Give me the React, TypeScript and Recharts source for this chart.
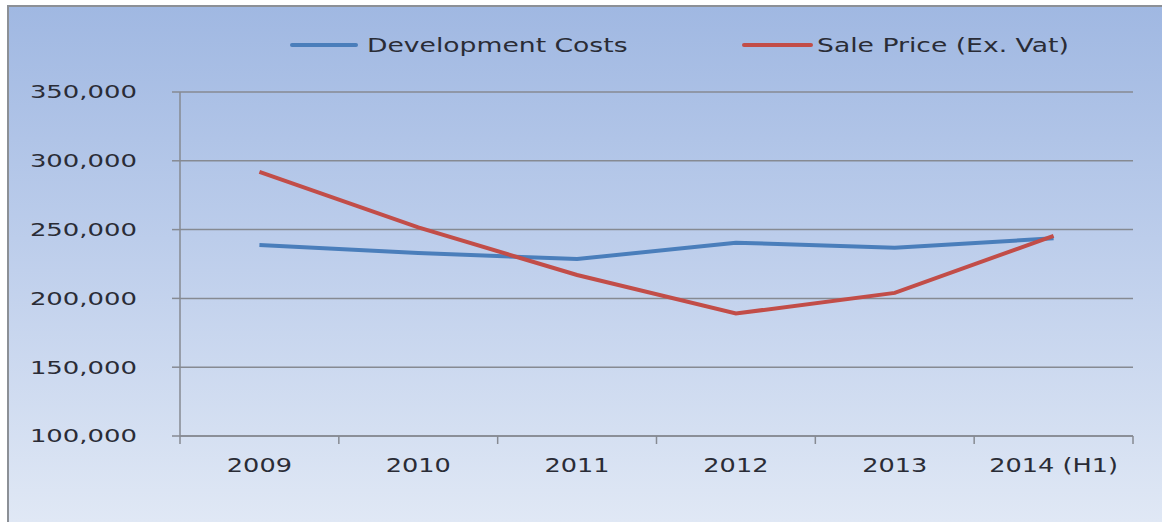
import React from 'react';
import { LineChart, Line, XAxis, YAxis, CartesianGrid, Legend } from 'recharts';

const years = ['2009', '2010', '2011', '2012', '2013', '2014 (H1)'];
const developmentCosts = [238800, 233000, 228600, 240500, 236800, 243700];
const salePrice = [292000, 251600, 217000, 189000, 204000, 245500];
const yTicks = [100000, 150000, 200000, 250000, 300000, 350000];

const data = years.map((year, i) => ({
  year,
  dev: developmentCosts[i],
  sale: salePrice[i],
}));

const TEXT = '#2a2c36';
const AXIS = '#868a92';
const FONT = '"DejaVu Sans", Verdana, sans-serif';

const fmt = (v: number) => v.toLocaleString('en-US');

const YTick = (props: any) => {
  const { x, y, payload } = props;
  return (
    <g transform={`translate(${x},${y})`}>
      <text textAnchor="end" dy="0.36em" transform="scale(1.44,1)" fontFamily={FONT} fontSize={18} fill={TEXT}>
        {fmt(payload.value)}
      </text>
    </g>
  );
};

const XTick = (props: any) => {
  const { x, y, payload, index, visibleTicksCount, width } = props;
  const half =
    payload && typeof payload.offset === 'number' && payload.offset > 0
      ? payload.offset
      : width / (visibleTicksCount || 6) / 2;
  const isLast = index === (visibleTicksCount || 6) - 1;
  return (
    <g transform={`translate(${x},${y})`}>
      <line x1={-half} x2={-half} y1={0} y2={8} stroke={AXIS} strokeWidth={1.5} />
      {isLast && <line x1={half} x2={half} y1={0} y2={8} stroke={AXIS} strokeWidth={1.5} />}
      <text y={22} textAnchor="middle" dy="0.71em" transform="scale(1.28,1)" fontFamily={FONT} fontSize={20} fill={TEXT}>
        {payload.value}
      </text>
    </g>
  );
};

const legendLayout = [
  { before: 281, line: 68, gap: 9, text: 266 },
  { before: 109, line: 71, gap: 4, text: 253 },
];

const LegendContent = (props: any) => {
  const payload = props.payload || [];
  return (
    <div style={{ height: 60, position: 'relative' }}>
      <div style={{ display: 'flex', alignItems: 'center', height: 26 }}>
        {payload.map((p: any, i: number) => {
          const l = legendLayout[i] || legendLayout[1];
          return (
            <React.Fragment key={p.value}>
              <span style={{ display: 'inline-block', width: l.before, flex: 'none' }} />
              <span style={{ display: 'inline-block', width: l.line, height: 4, background: p.color, borderRadius: 2, flex: 'none' }} />
              <span style={{ display: 'inline-block', width: l.gap, flex: 'none' }} />
              <span style={{ display: 'inline-block', width: l.text, whiteSpace: 'nowrap', flex: 'none' }}>
                <span
                  style={{
                    display: 'inline-block',
                    transform: 'scaleX(1.4)',
                    transformOrigin: 'left center',
                    fontFamily: FONT,
                    fontSize: 19,
                    color: TEXT,
                    lineHeight: '26px',
                  }}
                >
                  {p.value}
                </span>
              </span>
            </React.Fragment>
          );
        })}
      </div>
    </div>
  );
};

export default function App() {
  return (
    <div
      style={{
        position: 'absolute',
        left: 7,
        top: 5,
        width: 1155,
        height: 517,
        boxSizing: 'border-box',
        borderLeft: '2px solid #8c9096',
        borderTop: '2px solid #8c9096',
        background: 'linear-gradient(180deg, #a0b8e2 0%, #bccdeb 45%, #e0e8f5 100%)',
      }}
    >
      <LineChart width={1153} height={515} data={data} margin={{ top: 25, right: 29, bottom: 85, left: 0 }}>
        <CartesianGrid vertical={false} stroke={AXIS} strokeWidth={1.5} />
        <XAxis
          dataKey="year"
          scale="band"
          height={1}
          stroke={AXIS}
          strokeWidth={1.5}
          tickLine={false}
          tickSize={0}
          tickMargin={0}
          tick={<XTick />}
          interval={0}
        />
        <YAxis
          width={171}
          domain={[100000, 350000]}
          ticks={yTicks}
          tickSize={8}
          tickMargin={35}
          stroke={AXIS}
          strokeWidth={1.5}
          tick={<YTick />}
          interval={0}
        />
        <Legend
          verticalAlign="top"
          align="left"
          content={<LegendContent />}
          wrapperStyle={{ left: 0, width: 1153 }}
        />
        <Line dataKey="dev" name="Development Costs" stroke="#4a7ebb" strokeWidth={4} dot={false} isAnimationActive={false} />
        <Line dataKey="sale" name="Sale Price (Ex. Vat)" stroke="#c24d48" strokeWidth={4} dot={false} isAnimationActive={false} />
      </LineChart>
    </div>
  );
}
